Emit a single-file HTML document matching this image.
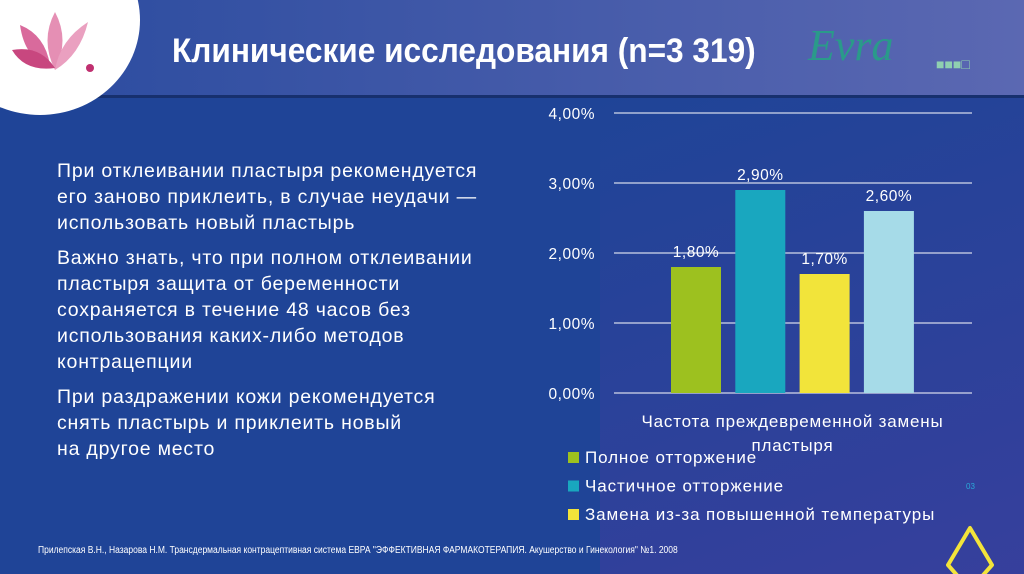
<!DOCTYPE html>
<html><head><meta charset="utf-8"><style>
html,body{margin:0;width:1024px;height:574px;overflow:hidden}
body{background:#1f4497;font-family:"Liberation Sans","Noto Sans CJK SC",sans-serif;position:relative}
#hdr{position:absolute;left:0;top:0;width:1024px;height:95px;background:linear-gradient(90deg,#2a4b9f,#5b68b2);border-bottom:3px solid #17306e}
#title{position:absolute;left:172px;top:32px;color:#fff;font-size:34px;font-weight:bold;transform:scaleX(0.93);transform-origin:left;white-space:nowrap}
#txt{position:absolute;left:57px;top:158px;color:#fff;font-size:19.5px;line-height:26px;letter-spacing:0.8px}
#txt p{margin:0 0 9px 0}
#ref{position:absolute;left:38px;top:545px;color:#fff;font-size:10px;transform:scaleX(0.85);transform-origin:left;white-space:nowrap}
#shade{position:absolute;left:600px;top:98px;width:424px;height:476px;background:linear-gradient(160deg,rgba(31,68,151,0),rgba(70,60,160,.6))}
.lt{letter-spacing:0.8px}
</style></head><body>
<div id="hdr"></div>
<div id="shade"></div>
<svg style="position:absolute;left:0;top:0" width="140" height="120">
<ellipse cx="40" cy="20" rx="100" ry="95" fill="#fff"/>
<path d="M20 25 Q45 35 50 65 Q25 60 20 25Z" fill="#d96a9c"/><path d="M55 12 Q70 40 55 70 Q40 40 55 12Z" fill="#e58fb4"/><path d="M12 50 Q40 45 55 68 Q25 72 12 50Z" fill="#c8477f"/><path d="M88 22 Q80 55 55 70 Q60 40 88 22Z" fill="#eaa0c0"/><circle cx="90" cy="68" r="4" fill="#c03070"/></svg>
<div id="title">Клинические исследования (n=3 319)</div>
<div style="position:absolute;left:808px;top:20px;color:#2a9a8a;font-family:'Liberation Serif',serif;font-style:italic;font-size:44px">Evra</div>
<div style="position:absolute;left:936px;top:56px;color:#8fd0b0;font-size:14px;font-weight:bold">■■■□</div>
<div id="txt">
<p>При отклеивании пластыря рекомендуется<br>его заново приклеить, в случае неудачи —<br>использовать новый пластырь</p>
<p>Важно знать, что при полном отклеивании<br>пластыря защита от беременности<br>сохраняется в течение 48 часов без<br>использования каких-либо методов<br>контрацепции</p>
<p>При раздражении кожи рекомендуется<br>снять пластырь и приклеить новый<br>на другое место</p></div>
<svg id="chart" style="position:absolute;left:0;top:0" width="1024" height="574"></svg>
<div class="lt" style="position:absolute;left:615px;top:410px;width:355px;text-align:center;color:#fff;font-size:17px;line-height:24px">Частота преждевременной замены<br>пластыря</div>
<div style="position:absolute;left:966px;top:482px;color:#2aa8d8;font-size:8px">03</div>
<svg style="position:absolute;left:940px;top:520px" width="70" height="54"><path d="M30 8 L8 45 L30 70 L52 45Z" fill="none" stroke="#f3e43a" stroke-width="4" stroke-linejoin="round"/></svg>
<div id="ref">Прилепская В.Н., Назарова Н.М. Трансдермальная контрацептивная система ЕВРА "ЭФФЕКТИВНАЯ ФАРМАКОТЕРАПИЯ. Акушерство и Гинекология" №1. 2008</div>
<script>
const ticks=[0,1,2,3,4];
const tickLabels=["0,00%","1,00%","2,00%","3,00%","4,00%"];
const seriesNames=["Полное отторжение","Частичное отторжение","Замена из-за повышенной температуры","Другое"];
const values=[1.8,2.9,1.7,2.6];
const valueLabels=["1,80%","2,90%","1,70%","2,60%"];
const colors=["#9dc11f","#19a7bf","#f2e43a","#a6dbe8"];
const svg=document.getElementById('chart');const NS="http://www.w3.org/2000/svg";
const y=v=>393-v*70;const x=i=>671+i*64.3;
function mk(t,a){const e=document.createElementNS(NS,t);for(const k in a)e.setAttribute(k,a[k]);svg.appendChild(e);return e;}
ticks.forEach((t,i)=>{const l=mk('line',{x1:614,x2:972,y1:y(t),y2:y(t),stroke:'#fff','stroke-width':1});

const tx=mk('text',{x:595,y:y(t)+6,'text-anchor':'end',fill:'#fff','font-size':15.5,'font-family':'Liberation Sans','letter-spacing':0.5});tx.textContent=tickLabels[i];
});
values.forEach((v,i)=>{const r=mk('rect',{x:x(i),y:y(v),width:50,height:v*70,fill:colors[i]});

const tx=mk('text',{x:x(i)+25,y:y(v)-10,'text-anchor':'middle',fill:'#fff','font-size':15.5,'font-family':'Liberation Sans','letter-spacing':0.5});tx.textContent=valueLabels[i];
});
[0,1,2].forEach(i=>{const yy=462+i*28.5;const r=mk('rect',{x:568,y:yy-10,width:11,height:11,fill:colors[i]});

const tx=mk('text',{x:585,y:yy+1,fill:'#fff','font-size':17,'font-family':'Liberation Sans','letter-spacing':0.9});tx.textContent=seriesNames[i];
});
</script>
</body></html>
